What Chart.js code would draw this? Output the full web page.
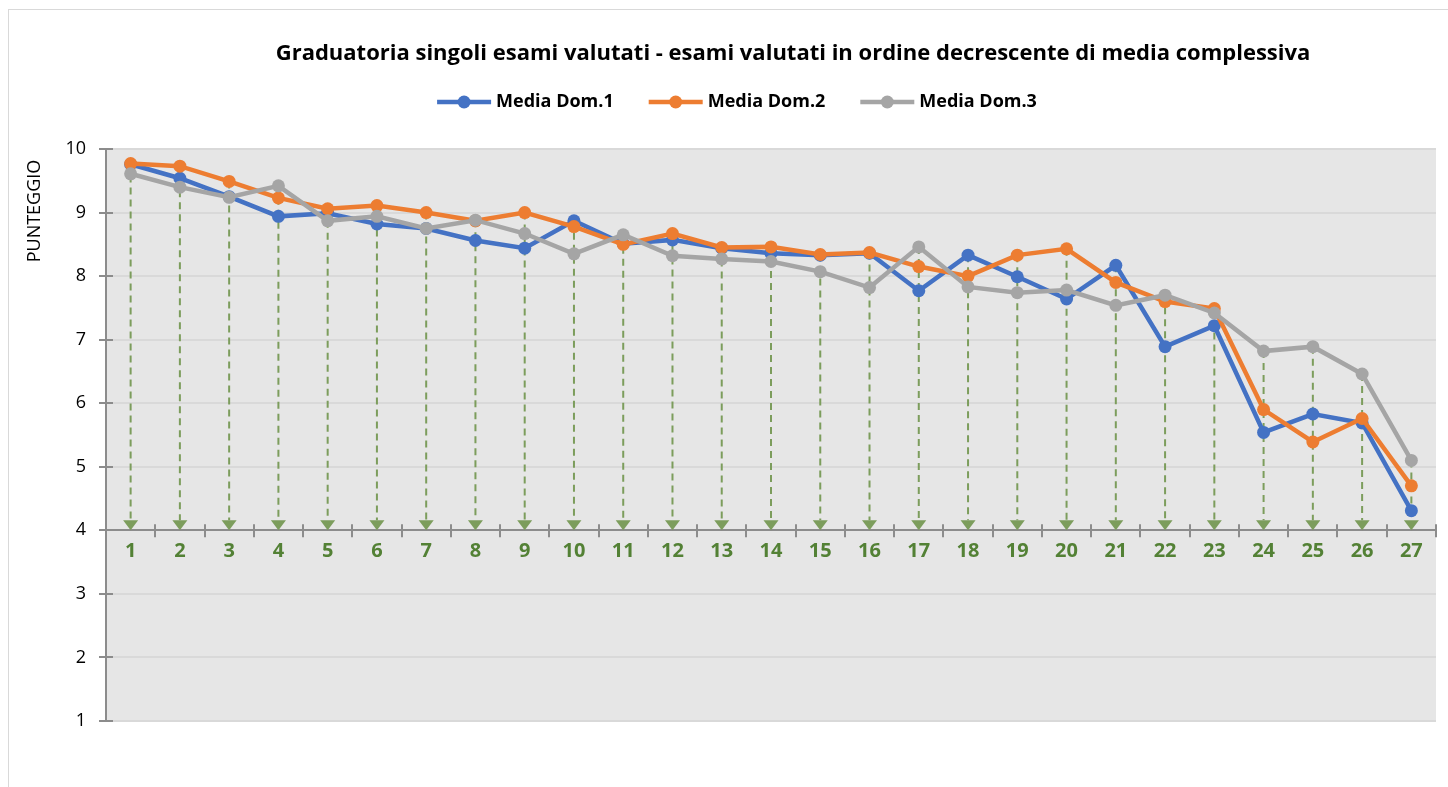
<!DOCTYPE html>
<html>
<head>
<meta charset="utf-8">
<script src="https://cdn.jsdelivr.net/npm/chart.js@4.4.1/dist/chart.umd.min.js"></script>
<style>
    html, body { margin: 0; padding: 0; background: #fff; }
    #wrap { position: relative; width: 1448px; height: 787px; }
</style>
</head>
<body>
<div id="wrap"><canvas id="grafico"></canvas></div>
<script>
    // esami in ordine decrescente di media complessiva
    const esami = ['1', '2', '3', '4', '5', '6', '7', '8', '9', '10', '11', '12', '13', '14',
        '15', '16', '17', '18', '19', '20', '21', '22', '23', '24', '25', '26', '27'];

    const mediaDom1 = [9.76, 9.54, 9.25, 8.94, 8.99, 8.82, 8.75, 8.56, 8.44, 8.87, 8.51, 8.57, 8.44, 8.36,
        8.33, 8.36, 7.77, 8.33, 7.99, 7.64, 8.17, 6.89, 7.22, 5.54, 5.83, 5.69, 4.31];
    const mediaDom2 = [9.77, 9.73, 9.49, 9.23, 9.06, 9.11, 9.00, 8.87, 9.00, 8.78, 8.50, 8.67, 8.45, 8.46,
        8.34, 8.37, 8.15, 8.00, 8.33, 8.43, 7.90, 7.60, 7.49, 5.90, 5.39, 5.76, 4.70];
    const mediaDom3 = [9.61, 9.40, 9.24, 9.42, 8.87, 8.94, 8.75, 8.88, 8.67, 8.35, 8.65, 8.32, 8.27, 8.23,
        8.07, 7.82, 8.46, 7.83, 7.74, 7.78, 7.54, 7.70, 7.42, 6.82, 6.89, 6.46, 5.10];

    const nomiSerie = ['Media Dom.1', 'Media Dom.2', 'Media Dom.3'];
    const coloriSerie = ['#4472c4', '#ed7d31', '#a5a5a5'];

    const punteggioMin = 1;
    const punteggioMax = 10;
    const incrocioAsseX = 4; // l'asse delle categorie incrocia a 4

    const titoloGrafico = 'Graduatoria singoli esami valutati - esami valutati in ordine decrescente di media complessiva';
    const titoloAsseY = 'PUNTEGGIO';

    const FONT = '"Open Sans", "Noto Sans", sans-serif';
    const VERDE_GUIDA = '#7c9d5c';
    const GRIGIO_ASSE = '#8c8c8c';

    const sfondoPlugin = {
        id: 'sfondo',
        beforeDraw(chart) {
            const { ctx, chartArea: a } = chart;
            ctx.save();
            ctx.fillStyle = '#ffffff';
            ctx.fillRect(0, 0, chart.width, chart.height);
            ctx.strokeStyle = '#d9d9d9';
            ctx.lineWidth = 1;
            ctx.strokeRect(8.5, 9.5, chart.width + 20, chart.height + 20);
            ctx.fillStyle = '#e6e6e6';
            ctx.fillRect(a.left, a.top, a.right - a.left, a.bottom - a.top);
            ctx.restore();
        }
    };

    // linee di proiezione tratteggiate con freccia verso l'asse
    const lineeGuidaPlugin = {
        id: 'lineeGuida',
        beforeDatasetsDraw(chart) {
            const { ctx, scales: { x, y } } = chart;
            const yAsse = y.getPixelForValue(incrocioAsseX);
            ctx.save();
            esami.forEach((_, i) => {
                const massimo = Math.max(...chart.data.datasets.map(d => d.data[i]));
                const px = x.getPixelForValue(i);
                ctx.strokeStyle = VERDE_GUIDA;
                ctx.lineWidth = 2;
                ctx.setLineDash([7, 5]);
                ctx.beginPath();
                ctx.moveTo(px, y.getPixelForValue(massimo));
                ctx.lineTo(px, yAsse - 10);
                ctx.stroke();
                ctx.setLineDash([]);
                ctx.fillStyle = VERDE_GUIDA;
                ctx.beginPath();
                ctx.moveTo(px - 7.5, yAsse - 10);
                ctx.lineTo(px + 7.5, yAsse - 10);
                ctx.lineTo(px, yAsse);
                ctx.closePath();
                ctx.fill();
            });

            // tacche incrociate sugli assi
            ctx.strokeStyle = GRIGIO_ASSE;
            ctx.lineWidth = 2;
            ctx.beginPath();
            y.ticks.forEach(t => {
                const py = Math.round(y.getPixelForValue(t.value));
                ctx.moveTo(x.left - 7, py);
                ctx.lineTo(x.left + 7, py);
            });
            for (let i = 1; i <= esami.length; i++) {
                const px = Math.round(x.getPixelForValue(i - 0.5));
                ctx.moveTo(px, yAsse - 6);
                ctx.lineTo(px, yAsse + 7);
            }
            ctx.stroke();
            ctx.restore();
        }
    };

    const testiPlugin = {
        id: 'testi',
        afterDraw(chart) {
            const { ctx } = chart;
            ctx.save();
            ctx.fillStyle = '#000';
            ctx.textBaseline = 'middle';

            ctx.font = `bold 22px ${FONT}`;
            ctx.textAlign = 'center';
            ctx.fillText(titoloGrafico, 793, 54);

            // legenda
            ctx.font = `bold 18px ${FONT}`;
            ctx.textAlign = 'left';
            const campione = 54, spazio = 5, distanza = 35;
            const serie = chart.data.datasets;
            const larghezze = serie.map(d => ctx.measureText(d.label).width);
            const totale = larghezze.reduce((s, w) => s + campione + spazio + w, 0) + distanza * (serie.length - 1);
            let lx = 737 - totale / 2;
            const ly = 102;
            serie.forEach((d, i) => {
                ctx.strokeStyle = d.borderColor;
                ctx.lineWidth = 4.5;
                ctx.beginPath();
                ctx.moveTo(lx, ly);
                ctx.lineTo(lx + campione, ly);
                ctx.stroke();
                ctx.fillStyle = d.borderColor;
                ctx.beginPath();
                ctx.arc(lx + campione / 2, ly, 6.5, 0, Math.PI * 2);
                ctx.fill();
                ctx.fillStyle = '#000';
                ctx.fillText(d.label, lx + campione + spazio, ly);
                lx += campione + spazio + larghezze[i] + distanza;
            });

            // titolo asse verticale
            ctx.font = `18px ${FONT}`;
            ctx.textAlign = 'center';
            ctx.translate(35, 211);
            ctx.rotate(-Math.PI / 2);
            ctx.fillText(titoloAsseY, 0, 0);
            ctx.restore();
        }
    };

    function creaSerie(label, data, colore, ordine) {
        return {
            label,
            data,
            borderColor: colore,
            backgroundColor: colore,
            borderWidth: 4.5,
            pointRadius: 6.5,
            pointHoverRadius: 6.5,
            pointBorderWidth: 0,
            pointBackgroundColor: colore,
            tension: 0,
            order: ordine
        };
    }

    new Chart(document.getElementById('grafico'), {
        type: 'line',
        data: {
            labels: esami,
            datasets: [
                creaSerie(nomiSerie[0], mediaDom1, coloriSerie[0], 3),
                creaSerie(nomiSerie[1], mediaDom2, coloriSerie[1], 2),
                creaSerie(nomiSerie[2], mediaDom3, coloriSerie[2], 1)
            ]
        },
        options: {
            responsive: true,
            maintainAspectRatio: false,
            animation: false,
            layout: { padding: { top: 149, bottom: 66, left: 10, right: 12 } },
            plugins: {
                legend: { display: false },
                title: { display: false },
                tooltip: { enabled: false }
            },
            scales: {
                x: {
                    type: 'category',
                    offset: true,
                    position: { y: incrocioAsseX },
                    grid: { display: true, drawOnChartArea: false, drawTicks: false },
                    border: { display: true, color: GRIGIO_ASSE, width: 2 },
                    ticks: {
                        color: '#538135',
                        font: { family: FONT, size: 20, weight: 'bold' },
                        padding: 9,
                        maxRotation: 0,
                        autoSkip: false
                    }
                },
                y: {
                    min: punteggioMin,
                    max: punteggioMax,
                    grid: { color: '#d9d9d9', lineWidth: 2, drawTicks: false },
                    border: { display: true, color: GRIGIO_ASSE, width: 2 },
                    ticks: {
                        stepSize: 1,
                        color: '#000',
                        font: { family: FONT, size: 18 },
                        padding: 20
                    },
                    afterFit(scale) { scale.width = 96; }
                }
            }
        },
        plugins: [sfondoPlugin, lineeGuidaPlugin, testiPlugin]
    });
</script>
</body>
</html>
